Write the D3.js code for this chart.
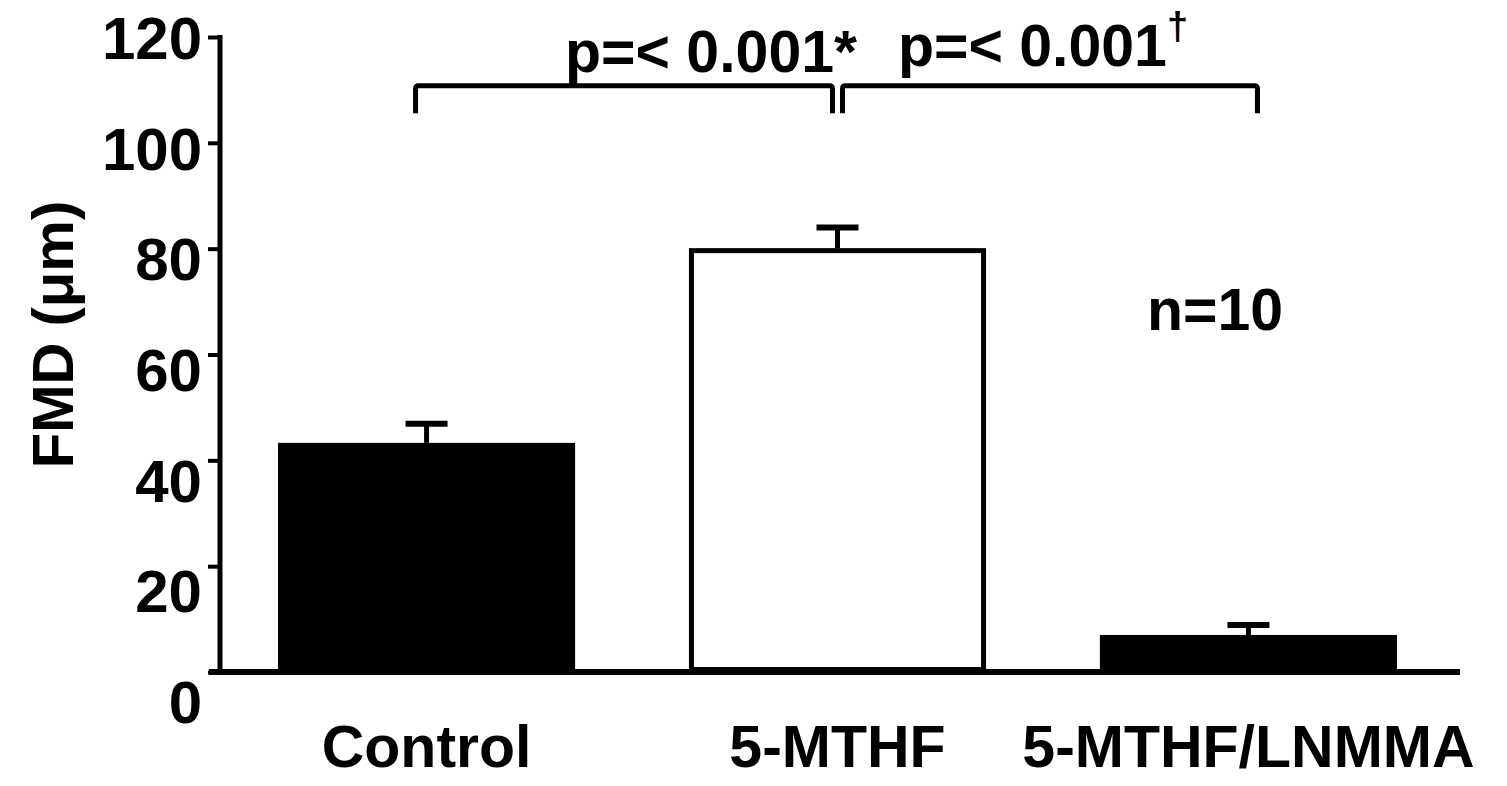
<!DOCTYPE html>
<html>
<head>
<meta charset="utf-8">
<script src="https://cdn.jsdelivr.net/npm/d3@7"></script>
<style>
  body { margin: 0; background: #fff; }
  svg text { font-family: "Liberation Sans", Arial, sans-serif; font-weight: bold; fill: #000; }
</style>
</head>
<body>
<div id="container"></div>
<script>
// FMD bar chart: Control vs 5-MTHF vs 5-MTHF/LNMMA

const categories = ["Control", "5-MTHF", "5-MTHF/LNMMA"]
const means = [43.3, 80.1, 7.0]
const sems = [3.6, 3.9, 1.9]
const yTicks = [0, 20, 40, 60, 80, 100, 120]
const comparisons = [
    { from: "Control", to: "5-MTHF", label: "p=< 0.001", mark: "*" },
    { from: "5-MTHF", to: "5-MTHF/LNMMA", label: "p=< 0.001", mark: "\u2020" },
]
const sampleNote = "n=10"
const yTitle = "FMD (\u03bcm)"

const width = 1507,
    height = 786

const svg = d3.select("#container")
    .append("svg")
    .attr("width", width)
    .attr("height", height)

const axisX = 220,
    baseY = 672

const yScale = d3.scaleLinear()
    .domain([0, 120])
    .range([baseY, 37])

const xScale = d3.scaleBand()
    .domain(categories)
    .range([278, 1397])
    .paddingInner(0.277)
    .paddingOuter(0)

const center = c => xScale(c) + xScale.bandwidth() / 2

const data = categories.map((c, i) => ({ category: c, mean: means[i], sem: sems[i] }))

// bars (the 5-MTHF one is open, outlined)
const strokeW = 5
const isOpen = d => d.category === "5-MTHF"
svg.append("g").attr("class", "bars")
    .selectAll("rect")
    .data(data)
    .enter()
    .append("rect")
    .attr("x", d => xScale(d.category) + (isOpen(d) ? strokeW / 2 : 0))
    .attr("y", d => yScale(d.mean) + (isOpen(d) ? strokeW / 2 : 0))
    .attr("width", d => xScale.bandwidth() - (isOpen(d) ? strokeW : 0))
    .attr("height", d => baseY - yScale(d.mean) - (isOpen(d) ? strokeW : 0))
    .style("fill", d => isOpen(d) ? "#fff" : "#000")
    .style("stroke", "#000")
    .style("stroke-width", d => isOpen(d) ? strokeW : 0)

// error bars (upper only)
const err = svg.append("g").attr("class", "errors")
err.selectAll("line.stem")
    .data(data)
    .enter()
    .append("line")
    .attr("class", "stem")
    .attr("x1", d => center(d.category))
    .attr("x2", d => center(d.category))
    .attr("y1", d => yScale(d.mean))
    .attr("y2", d => yScale(d.mean + d.sem))
    .style("stroke", "#000")
    .style("stroke-width", 5)
err.selectAll("line.cap")
    .data(data)
    .enter()
    .append("line")
    .attr("class", "cap")
    .attr("x1", d => center(d.category) - 21)
    .attr("x2", d => center(d.category) + 21)
    .attr("y1", d => yScale(d.mean + d.sem))
    .attr("y2", d => yScale(d.mean + d.sem))
    .style("stroke", "#000")
    .style("stroke-width", 6)

// y axis
const yAxis = d3.axisLeft(yScale)
    .tickValues(yTicks)
    .tickSize(12)
    .tickPadding(6)
    .tickFormat(d3.format("d"))

const yG = svg.append("g").attr("id", "y-axis")
    .attr("transform", `translate(${axisX},0)`)
    .call(yAxis)
yG.select(".domain").remove()
yG.selectAll(".tick line").style("stroke", "#000").style("stroke-width", 4)
// the scanned labels drift a little below their ticks toward the bottom
yG.selectAll(".tick text")
    .attr("dy", d => 21.6 + (120 - d) * 0.24)
    .style("font-size", "60px")
yG.append("line")
    .attr("x1", 0).attr("x2", 0)
    .attr("y1", yScale(120) - 2).attr("y2", baseY)
    .style("stroke", "#000")
    .style("stroke-width", 5)

svg.append("text")
    .attr("transform", `translate(73,${(yScale(0) + yScale(120)) / 2 - 20}) rotate(-90)`)
    .attr("text-anchor", "middle")
    .style("font-size", "58px")
    .text(yTitle)

// x axis: baseline + category labels
svg.append("line")
    .attr("x1", axisX - 11).attr("x2", 1460)
    .attr("y1", baseY).attr("y2", baseY)
    .style("stroke", "#000")
    .style("stroke-width", 6)

const xAxis = d3.axisBottom(xScale)
    .tickSize(0)
    .tickPadding(53)

const xG = svg.append("g").attr("id", "x-axis")
    .attr("transform", `translate(0,${baseY})`)
    .call(xAxis)
xG.select(".domain").remove()
xG.selectAll(".tick text").style("font-size", "59px")

// significance brackets
const bracketTop = 110.8,
    bracketFoot = 105.6
const ends = [[-11, -5], [5, 9]]
const labelShift = [79, 0]
const labelBase = [72, 66]

const br = svg.append("g").attr("class", "brackets")
comparisons.forEach((c, i) => {
    const x0 = center(c.from) + ends[i][0]
    const x1 = center(c.to) + ends[i][1]
    const yt = yScale(bracketTop), yf = yScale(bracketFoot)
    br.append("path")
        .attr("d", `M${x0},${yf} V${yt + 3} Q${x0},${yt} ${x0 + 3},${yt} H${x1 - 3} Q${x1},${yt} ${x1},${yt + 3} V${yf}`)
        .style("fill", "none")
        .style("stroke", "#000")
        .style("stroke-width", 5)

    const t = br.append("text")
        .attr("x", (center(c.from) + center(c.to)) / 2 + labelShift[i])
        .attr("y", labelBase[i])
        .attr("text-anchor", "middle")
        .style("font-size", "59px")
    t.append("tspan").text(c.label)
    if (c.mark === "*") {
        t.append("tspan").text(c.mark)
    } else {
        t.append("tspan").attr("dy", -27).style("font-size", "38px").text(c.mark)
    }
})

// sample size note
svg.append("text")
    .attr("x", 1215)
    .attr("y", yScale(64.6))
    .attr("text-anchor", "middle")
    .style("font-size", "59px")
    .text(sampleNote)
</script>
</body>
</html>
